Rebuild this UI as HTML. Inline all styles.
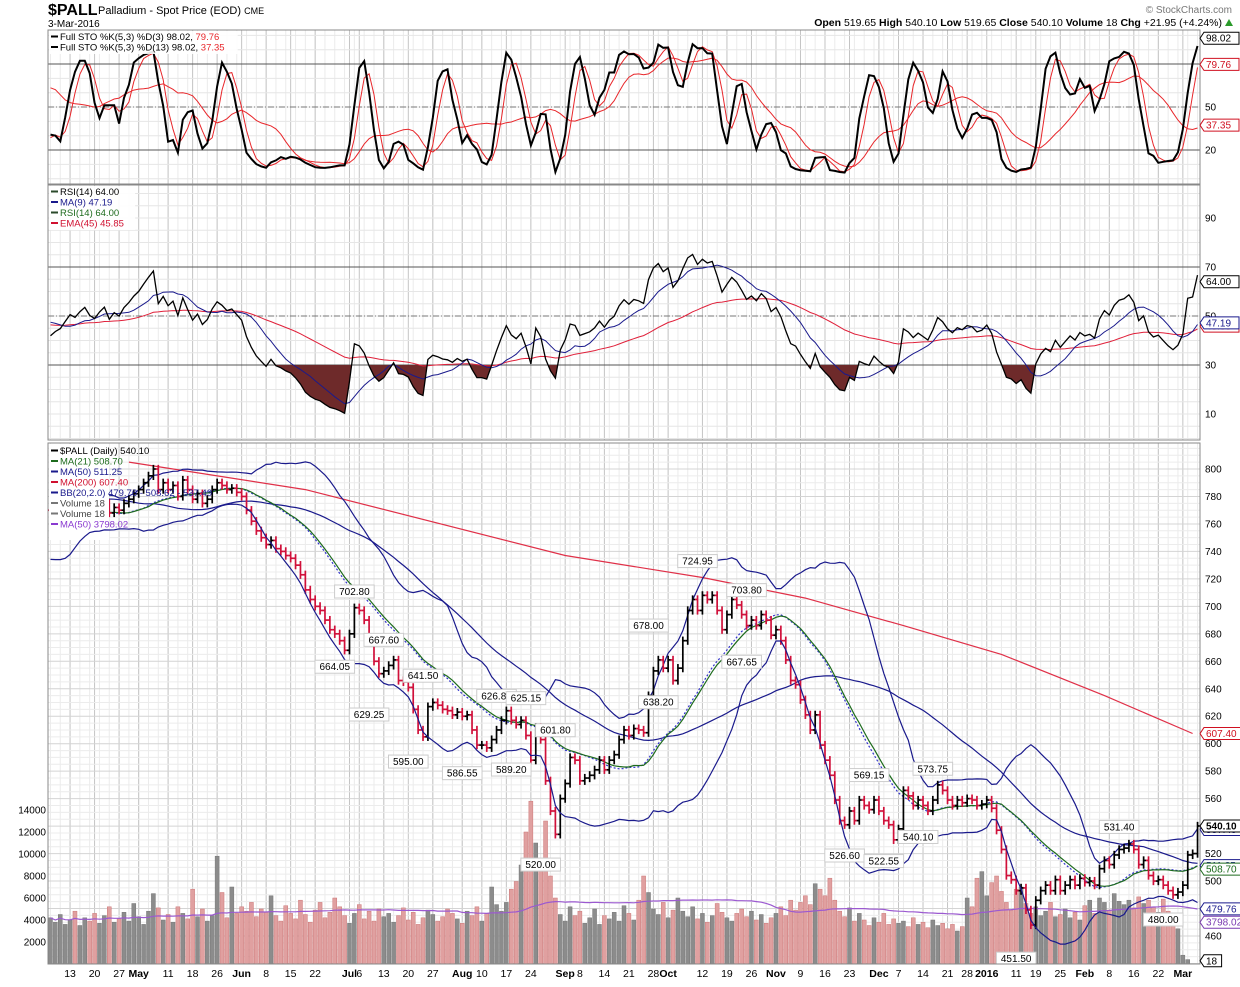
<!DOCTYPE html>
<html><head><meta charset="utf-8"><style>
html,body{margin:0;padding:0;background:#fff;}
body{width:1240px;height:982px;overflow:hidden;font-family:"Liberation Sans",sans-serif;}
svg text{font-family:"Liberation Sans",sans-serif;}
</style></head><body>
<svg id="chart" width="1240" height="982" xmlns="http://www.w3.org/2000/svg">
<text x="48" y="15" font-size="16" font-weight="bold">$PALL</text>
<text x="98" y="14" font-size="11">Palladium - Spot Price (EOD) <tspan font-size="9">CME</tspan></text>
<text x="48" y="27" font-size="10">3-Mar-2016</text>
<text x="1232" y="13" font-size="10" fill="#777" text-anchor="end">© StockCharts.com</text>
<text x="1222" y="26" font-size="10.5" text-anchor="end"><tspan font-weight="bold">Open</tspan> 519.65 <tspan font-weight="bold">High</tspan> 540.10 <tspan font-weight="bold">Low</tspan> 519.65 <tspan font-weight="bold">Close</tspan> 540.10 <tspan font-weight="bold">Volume</tspan> 18 <tspan font-weight="bold">Chg</tspan> +21.95 (+4.24%)</text>
<path d="M1225,26 l4,-7 l4,7 z" fill="#2a9a2a"/>
</svg>
<script>
var prior=[790,795,800,785,770,765,775,780,790,800,805,795,785,780,790,800,810,815,820,810,800,795,805,815,825,830,820,810,800,795,780,770,760,750,740,735,738,745,750,760,765,760,770,775,780,775,765,760,765,770];
var closes=[755,758,760,765,770,768,772,775,770,768,772,775,
768,772,770,775,778,782,785,790,795,800,785,790,785,788,780,792,785,778,
782,775,778,785,790,788,785,786,783,
780,770,762,755,750,745,748,742,740,737,735,730,723,712,705,700,697,690,683,680,675,668,680,
699,697,690,675,660,651,653,657,661,646,645,641,625,610,605,627,630,628,625,624,621,623,620,621,610,599,599,597,603,610,617,624,617,614,617,606,588,612,603,573,551,534,560,571,590,588,573,575,577,581,588,581,588,592,603,610,606,611,610,608,635,653,661,655,661,646,655,675,697,705,697,708,705,708,697,683,694,705,701,694,686,690,686,694,690,679,683,675,661,646,643,632,621,610,621,599,588,577,559,544,541,551,544,559,555,552,559,551,544,541,530,538,566,562,555,559,555,551,559,570,566,559,555,559,557,560,559,555,556,559,553,537,523,504,501,493,495,479,468,486,493,497,493,501,493,497,501,497,502,499,500,497,509,515,512,519,523,524,527,523,512,515,504,500,501,497,493,490,492,497,519,520,540.1];
var volumes=[4200,3800,4500,3600,4000,4800,3500,4200,3900,4600,3700,4400,5200,3800,4100,4700,3900,5500,4300,3600,4800,6400,5100,4000,4500,3800,5200,4600,4100,6800,4300,5000,3900,4400,9800,6500,4200,7000,4600,5200,
4800,5600,4300,5000,4700,6200,4400,3900,5300,4600,4100,5800,4500,3800,4900,5600,4200,4700,6000,5200,4400,3700,4600,5400,4100,4800,3900,5000,4300,4600,3800,4400,5100,4000,4700,3600,4200,4900,4500,3900,4300,5000,4600,4100,3700,4800,4400,5200,3900,4600,7000,5400,4800,5600,6800,7500,9000,12000,14800,11000,
9500,13000,8000,6000,4500,3900,5200,4400,4800,3700,4200,5000,3600,4400,4100,4700,3900,5300,4600,4000,5800,8000,6500,5000,4500,5600,4200,4900,6000,4800,4300,5200,4100,4600,3800,4400,5500,4700,4200,3900,4600,5000,4300,4800,4000,4500,3700,4200,
4600,5200,4400,5800,4900,5600,6200,5400,7300,6800,6200,7800,5800,4800,4300,5100,3900,4600,4000,3500,4200,3800,4600,3600,4100,3700,3900,3400,4200,3600,3800,3300,4000,3500,3700,3200,3600,3000,3400,6000,5200,7800,8400,
6200,7400,8000,6600,5600,4900,6800,7000,5500,4600,5200,4400,4800,5600,4300,4500,5000,4200,4700,4000,5300,5800,4600,6000,5600,4900,6400,5700,5400,5800,5100,6100,5500,5800,5200,4700,5900,4800,4100,3200,800,400,18];
var ma200Idx=[16,52,105,133,154,174,194,215,233];
var ma200Val=[805,785,737,721,706,686,665,635,607.4];
var tickIdx=[4,9,14,18,24,29,34,39,44,49,54,61,63,68,73,78,84,88,93,98,105,108,113,118,123,126,133,138,143,148,153,158,163,169,173,178,183,187,191,197,201,206,211,216,221,226,231];
var tickLbl=['13','20','27','May','11','18','26','Jun','8','15','22','Jul','6','13','20','27','Aug','10','17','24','Sep','8','14','21','28','Oct','12','19','26','Nov','9','16','23','Dec','7','14','21','28','2016','11','19','25','Feb','8','16','22','Mar'];
var annIdx=[58,62,68,65,76,73,84,91,97,94,103,100,122,124,132,142,141,162,167,170,177,180,197,218,227];
var annVal=[664.05,702.80,667.60,629.25,641.50,595.00,586.55,626.80,625.15,589.20,601.80,520.00,678.00,638.20,724.95,703.80,667.65,526.60,569.15,522.55,540.10,573.75,451.50,531.40,480.00];
var annSide=['l','h','h','l','h','l','l','h','h','l','h','l','h','l','h','h','l','l','h','l','l','h','l','h','l'];
var priceTicks=[800,780,760,740,720,700,680,660,640,620,600,580,560,540,520,500,480,460];
var volTicks=[14000,12000,10000,8000,6000,4000,2000];
var stoTicks=[50,20];
var rsiTicks=[90,70,50,30,10];

var NS='http://www.w3.org/2000/svg';
var svg=document.getElementById('chart');
var N=closes.length, L=48, R=1200;
function xAt(i){return L+(i+0.5)*(R-L)/N;}
function pY(p){return 469+(800-p)*1.3735;}
function vY(v){return 964-v*0.011;}
function sY(v){return 178.7-v*1.433;}
function rY(v){return 438.5-v*2.45;}
function mk(tag,attrs,parent){var e=document.createElementNS(NS,tag);for(var k in attrs)e.setAttribute(k,attrs[k]);(parent||svg).appendChild(e);return e;}
function txt(x,y,s,size,fill,anchor,parent,w){var e=mk('text',{x:x,y:y,'font-size':size,fill:fill||'#000','text-anchor':anchor||'start'},parent);if(w)e.setAttribute('font-weight',w);e.textContent=s;return e;}

var defs=mk('defs',{});
[['cs',30,184],['cr',185,440],['cp',443,964]].forEach(function(c){var cp=mk('clipPath',{id:c[0]},defs);mk('rect',{x:L,y:c[1],width:R-L,height:c[2]-c[1]},cp);});
var gS=mk('g',{'clip-path':'url(#cs)'});
var gR=mk('g',{'clip-path':'url(#cr)'});
var gP=mk('g',{'clip-path':'url(#cp)'});

function vgrid(g,y0,y1){for(var i=0;i<N;i+=2){mk('line',{x1:xAt(i),x2:xAt(i),y1:y0,y2:y1,stroke:'#ebebeb','stroke-width':1},g);}
 tickIdx.forEach(function(t){mk('line',{x1:xAt(t),x2:xAt(t),y1:y0,y2:y1,stroke:'#c4c4c4','stroke-width':1},g);});}
vgrid(gS,30,184);vgrid(gR,185,440);vgrid(gP,443,964);
for(var v=0;v<=100;v+=10){mk('line',{x1:L,x2:R,y1:sY(v),y2:sY(v),stroke:'#e6e6e6'},gS);}
for(var v=0;v<=100;v+=5){mk('line',{x1:L,x2:R,y1:rY(v),y2:rY(v),stroke:'#e6e6e6'},gR);}
for(var p=440;p<=820;p+=5){mk('line',{x1:L,x2:R,y1:pY(p),y2:pY(p),stroke:p%20==0?'#d4d4d4':'#ececec'},gP);}
mk('line',{x1:L,x2:R,y1:sY(80),y2:sY(80),stroke:'#555'},gS);
mk('line',{x1:L,x2:R,y1:sY(20),y2:sY(20),stroke:'#555'},gS);
mk('line',{x1:L,x2:R,y1:sY(50),y2:sY(50),stroke:'#777','stroke-dasharray':'6,2,1,2'},gS);
mk('line',{x1:L,x2:R,y1:rY(70),y2:rY(70),stroke:'#555'},gR);
mk('line',{x1:L,x2:R,y1:rY(30),y2:rY(30),stroke:'#555'},gR);
mk('line',{x1:L,x2:R,y1:rY(50),y2:rY(50),stroke:'#777','stroke-dasharray':'6,2,1,2'},gR);

var all=prior.concat(closes), P=prior.length;
var hiA=[],loA=[];
for(var k=0;k<all.length;k++){var pv=k>0?all[k-1]:all[k];hiA.push(Math.max(pv,all[k])+3);loA.push(Math.min(pv,all[k])-3);}
function smaAll(n,k){var s=0,c=0;for(var j=Math.max(0,k-n+1);j<=k;j++){s+=all[j];c++;}return s/c;}
function sdAll(n,k){var m=smaAll(n,k),s=0,c=0;for(var j=Math.max(0,k-n+1);j<=k;j++){s+=(all[j]-m)*(all[j]-m);c++;}return Math.sqrt(s/c);}
function pathOf(vals,yf,startIdx){var d='';for(var i=0;i<vals.length;i++){if(vals[i]==null)continue;d+=(d?'L':'M')+xAt(i+(startIdx||0)).toFixed(1)+','+yf(vals[i]).toFixed(1);}return d;}
var ma21=[],ma50=[],bbm=[],bbu=[],bbl=[];
for(var i=0;i<N;i++){var k=P+i;ma21.push(smaAll(21,k));ma50.push(smaAll(50,k));var m=smaAll(20,k),sd=sdAll(20,k);bbm.push(m);bbu.push(m+2*sd);bbl.push(m-2*sd);}

for(var i=0;i<N;i++){var vv=volumes[i]||0;var up=i==0||closes[i]>=closes[i-1];
 var b=mk('rect',{x:xAt(i)-2,y:vY(vv),width:4,height:964-vY(vv),fill:up?'#8c8c8c':'#e0a0a0',stroke:up?'#777':'#c77','stroke-width':0.5},gP);
 }
var vma=[];for(var i=0;i<N;i++){var s=0,c=0;for(var j=Math.max(0,i-49);j<=i;j++){s+=volumes[j]||0;c++;}vma.push(s/c);}
var e=mk('path',{d:pathOf(vma,vY),fill:'none',stroke:'#9b59d0','stroke-width':1.2},gP);

var m200=[];for(var j=0;j<ma200Idx.length;j++){m200.push((j?'L':'M')+xAt(ma200Idx[j]).toFixed(1)+','+pY(ma200Val[j]).toFixed(1));}
e=mk('path',{d:m200.join(''),fill:'none',stroke:'#e03048','stroke-width':1.2},gP);
e=mk('path',{d:pathOf(bbu,pY),fill:'none',stroke:'#1a1a8c','stroke-width':1.2},gP);
e=mk('path',{d:pathOf(ma50,pY),fill:'none',stroke:'#1a1a8c','stroke-width':1.2},gP);
e=mk('path',{d:pathOf(bbm,pY),fill:'none',stroke:'#3333cc','stroke-width':1.2,'stroke-dasharray':'2,2'},gP);
e=mk('path',{d:pathOf(ma21,pY),fill:'none',stroke:'#1d6b1d','stroke-width':1.2},gP);

for(var i=0;i<N;i++){var k=P+i;var up=closes[i]>=all[k-1];var col=up?'#000':'#d0103a';var x=xAt(i);
 var g=mk('g',{stroke:col,'stroke-width':1.7},gP);
 mk('line',{x1:x,x2:x,y1:pY(hiA[k]),y2:pY(loA[k])},g);
 mk('line',{x1:x-2.5,x2:x,y1:pY(all[k-1]),y2:pY(all[k-1])},g);
 mk('line',{x1:x,x2:x+2.5,y1:pY(closes[i]),y2:pY(closes[i])},g);}

// legend backdrop covering the earliest bars (as in reference)
var bd=mk('rect',{x:L+1,y:444,width:60,height:96,fill:'#fff'},gP);
e=mk('path',{d:pathOf(bbl,pY),fill:'none',stroke:'#1a1a8c','stroke-width':1.2},gP);

for(var j=0;j<annIdx.length;j++){var s=annVal[j].toFixed(2);var w=s.length*5.6+6;var x=xAt(annIdx[j]);var cy=pY(annVal[j])+(annSide[j]=='h'?-11:11);
 var g=mk('g',{},gP);
 mk('rect',{x:x-w/2,y:cy-6.5,width:w,height:13,fill:'#fff',stroke:'#ccc','stroke-width':1},g);
 txt(x,cy+3.5,s,10,'#000','middle',g);}

var rawK=[];for(var k=0;k<all.length;k++){var hh=-1e9,ll=1e9;for(var j=Math.max(0,k-4);j<=k;j++){hh=Math.max(hh,hiA[j]);ll=Math.min(ll,loA[j]);}rawK.push((all[k]-ll)/(hh-ll)*100);}
function smaArr(a,n,k){var s=0,c=0;for(var j=Math.max(0,k-n+1);j<=k;j++){s+=a[j];c++;}return s/c;}
var fk=[];for(var k=0;k<all.length;k++)fk.push(smaArr(rawK,3,k));
var kS=[],d3=[],d13=[];for(var i=0;i<N;i++){var k=P+i;kS.push(fk[k]);d3.push(smaArr(fk,3,k));d13.push(smaArr(fk,13,k));}
e=mk('path',{d:pathOf(d13,sY),fill:'none',stroke:'#e8262a','stroke-width':1},gS);
e=mk('path',{d:pathOf(d3,sY),fill:'none',stroke:'#e8262a','stroke-width':1},gS);
e=mk('path',{d:pathOf(kS,sY),fill:'none',stroke:'#000','stroke-width':2},gS);

var ag=0,al=0,rsiAll=[50];for(var k=1;k<all.length;k++){var ch=all[k]-all[k-1];var gn=ch>0?ch:0,ls=ch<0?-ch:0;if(k<=14){ag+=gn/14;al+=ls/14;}else{ag=(ag*13+gn)/14;al=(al*13+ls)/14;}rsiAll.push(al==0?100:100-100/(1+ag/al));}
var rsi=[],rma=[],rema=[];var em=rsiAll[0],a=2/46;var emAll=[];for(var k=0;k<all.length;k++){em=k==0?rsiAll[0]:em+a*(rsiAll[k]-em);emAll.push(em);}
for(var i=0;i<N;i++){var k=P+i;rsi.push(rsiAll[k]);rma.push(smaArr(rsiAll,9,k));rema.push(emAll[k]);}
var cpl=mk('clipPath',{id:'rlow'},defs);mk('rect',{x:L,y:rY(30),width:R-L,height:440-rY(30)},cpl);
var area=pathOf(rsi,rY)+'L'+xAt(N-1)+','+rY(30)+'L'+xAt(0)+','+rY(30)+'Z';
e=mk('path',{d:area,fill:'#6e2a2a','clip-path':'url(#rlow)'},gR);
e=mk('path',{d:pathOf(rema,rY),fill:'none',stroke:'#e0203a','stroke-width':1},gR);
e=mk('path',{d:pathOf(rma,rY),fill:'none',stroke:'#1a1a8c','stroke-width':1},gR);
e=mk('path',{d:pathOf(rsi,rY),fill:'none',stroke:'#000','stroke-width':1.3},gR);

[[30,184],[185,440],[443,964]].forEach(function(b){var r=mk('rect',{x:L,y:b[0],width:R-L,height:b[1]-b[0],fill:'none',stroke:'#888','stroke-width':1});});

stoTicks.forEach(function(v){var t=txt(1205,sY(v)+3.5,String(v),10,'#000');});
rsiTicks.forEach(function(v){var t=txt(1205,rY(v)+3.5,String(v),10,'#000');});
priceTicks.forEach(function(v){var t=txt(1205,pY(v)+3.5,String(v),10,'#000');});
volTicks.forEach(function(v){var t=txt(46,vY(v)+3.5,String(v),10,'#000','end');});
for(var j=0;j<tickIdx.length;j++){var bold=/[A-Za-z]|2016/.test(tickLbl[j]);var t=txt(xAt(tickIdx[j]),977,tickLbl[j],10.5,'#000','middle',null,bold?'bold':null);}

function tag(y,s,col,name,bold){var g=mk('g',{});
 var w=s.length*5.8+6;mk('path',{d:'M1200,'+y+' l4,-6 h'+w+' v12 h-'+w+' z',fill:'#fff',stroke:col,'stroke-width':1},g);
 txt(1206,y+3.5,s,10,col,'start',g,bold?'bold':null);}
tag(sY(98.02),'98.02','#000','sto-k-value-tag');
tag(sY(79.76),'79.76','#d01020','sto-d3-value-tag');
tag(sY(37.35),'37.35','#d01020','sto-d13-value-tag');
tag(rY(64),'64.00','#000','rsi-value-tag');
tag(rY(45.85),'45.85','#d01020','rsi-ema-value-tag');
tag(rY(47.19),'47.19','#1a1a8c','rsi-ma-value-tag');
tag(pY(607.4),'607.40','#d01020','ma200-value-tag');
tag(pY(537.49),'537.49','#1a1a8c','bb-upper-value-tag');
tag(pY(540.1),'540.10','#000','close-value-tag',true);
tag(pY(511.25),'511.25','#1a1a8c','ma50-value-tag');
tag(pY(508.7),'508.70','#1d6b1d','ma21-value-tag');
tag(pY(479.76),'479.76','#1a1a8c','bb-lower-value-tag');
tag(vY(3798),'3798.02','#7a3ab0','volume-ma-value-tag');
tag(vY(18)-3,'18','#000','volume-value-tag');

function legend(x,y,lines,name,bg){var g=mk('g',{});
 var w=0;lines.forEach(function(l){w=Math.max(w,l[0].length*5.7+12);});
 if(bg)mk('rect',{x:x,y:y,width:w,height:lines.length*10.5+2,fill:'#fff','fill-opacity':0.9},g);
 lines.forEach(function(l,j){var yy=y+9+j*10.5;mk('line',{x1:x+2,x2:x+9,y1:yy-3.5,y2:yy-3.5,stroke:l[2],'stroke-width':2},g);var t=txt(x+11,yy,l[0],9.5,l[1],'start',g);if(l[3]){var ts=document.createElementNS(NS,'tspan');ts.setAttribute('fill',l[3][1]);ts.textContent=l[3][0];t.appendChild(ts);}});}
legend(49,31,[['Full STO %K(5,3) %D(3) 98.02, ','#000','#000',[' 79.76','#e8262a']],['Full STO %K(5,3) %D(13) 98.02, ','#000','#000',['37.35','#e8262a']]],'sto-legend',true);
legend(49,186,[['RSI(14) 64.00','#000','#2a4a2a'],['MA(9) 47.19','#1a1a8c','#1a1a8c'],['RSI(14) 64.00','#1d6b1d','#2a4a2a'],['EMA(45) 45.85','#d01030','#d01030']],'rsi-legend',true);
legend(49,445,[['$PALL (Daily) 540.10','#000','#000'],['MA(21) 508.70','#1d6b1d','#1d6b1d'],['MA(50) 511.25','#1a1a8c','#1a1a8c'],['MA(200) 607.40','#d01030','#d01030'],['BB(20,2.0) 479.76 - 508.62 - 537.49','#1a1a8c','#1a1a8c'],['Volume 18','#444','#777'],['Volume 18','#444','#777'],['MA(50) 3798.02','#8a3ad0','#8a3ad0']],'price-legend',false);
</script>
</body></html>
